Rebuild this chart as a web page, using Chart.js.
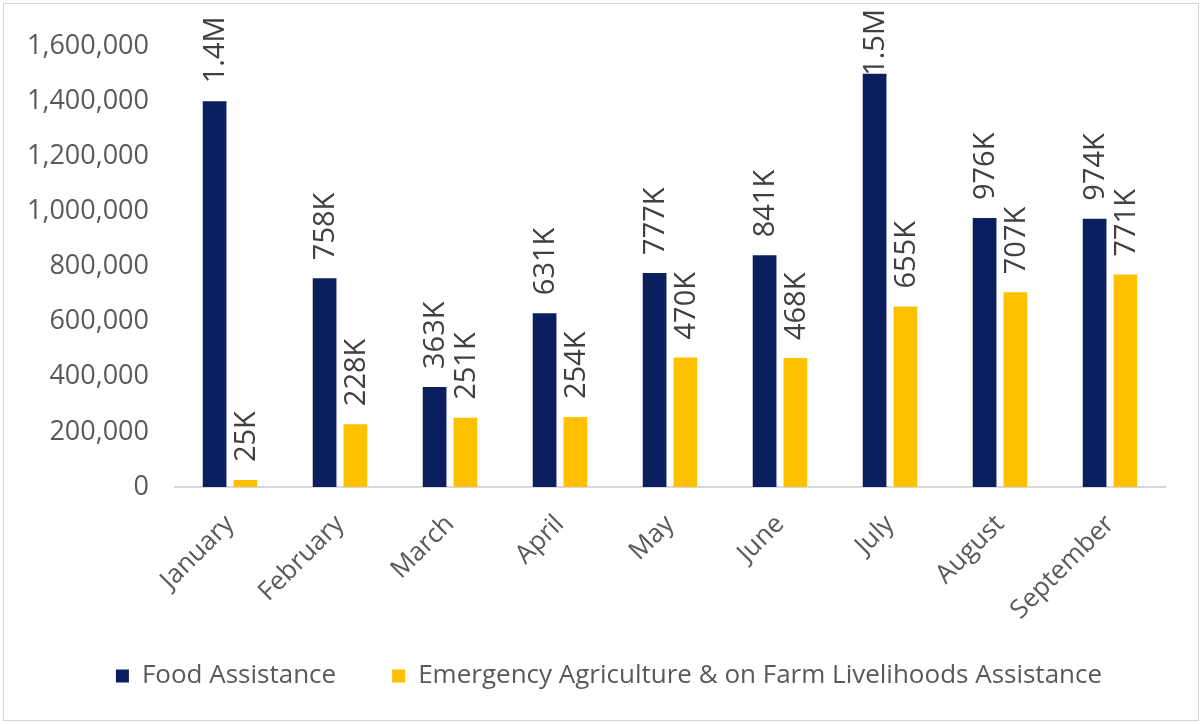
<!DOCTYPE html>
<html>
<head>
<meta charset="utf-8">
<script src="https://cdn.jsdelivr.net/npm/chart.js@4.4.0/dist/chart.umd.min.js"></script>
<style>
  html, body { margin: 0; padding: 0; background: #fff; }
  #frame {
    position: absolute; left: 3px; top: 3px;
    width: 1194px; height: 716px;
    border: 1px solid #d4d4d4; overflow: hidden; background: #fff;
  }
  #chart { display: block; }
</style>
</head>
<body>
<div id="frame"><canvas id="chart" width="1194" height="716"></canvas></div>
<script>
// Data
const months = ["January", "February", "March", "April", "May", "June", "July", "August", "September"]
const foodAssistance = [1400000, 758000, 363000, 631000, 777000, 841000, 1500000, 976000, 974000]
const agriAssistance = [25000, 228000, 251000, 254000, 470000, 468000, 655000, 707000, 771000]
const yTicks = [0, 200000, 400000, 600000, 800000, 1000000, 1200000, 1400000, 1600000]

const NAVY = "#0b1f5e"
const GOLD = "#ffc000"
const TEXT = "#595959"
const FONT = '"Open Sans", "Noto Sans", sans-serif'

// 1400000 -> 1.4M, 758000 -> 758K
function shortLabel(v) {
  if (v >= 1000000) return (v / 1000000).toFixed(1) + "M"
  return Math.round(v / 1000) + "K"
}

// Rotated value labels above each bar
const barLabels = {
  id: "barLabels",
  afterDatasetsDraw(chart) {
    const ctx = chart.ctx
    ctx.save()
    ctx.font = "29px " + FONT
    ctx.fillStyle = "#404040"
    ctx.textAlign = "left"
    ctx.textBaseline = "middle"
    chart.data.datasets.forEach((ds, i) => {
      chart.getDatasetMeta(i).data.forEach((bar, j) => {
        const text = shortLabel(ds.data[j])
        const w = ctx.measureText(text).width
        let y = bar.y - 18
        if (y - w < 5) y = 5 + w // keep the label inside the frame
        ctx.save()
        ctx.translate(bar.x + 1, y)
        ctx.rotate(-Math.PI / 2)
        ctx.fillText(text, 0, 0)
        ctx.restore()
      })
    })
    ctx.restore()
  },
}

// let tick labels run outside their scale boxes without being clipped
const unclipTicks = {
  id: "unclipTicks",
  afterLayout(chart) {
    chart.scales.x.bottom = chart.height
    chart.scales.y.left = 0
  },
}

new Chart(document.getElementById("chart"), {
  type: "bar",
  data: {
    labels: months,
    datasets: [
      {
        label: "Food Assistance",
        data: foodAssistance,
        backgroundColor: NAVY,
        borderWidth: 0,
        categoryPercentage: 0.56,
        barPercentage: 0.77,
      },
      {
        label: "Emergency Agriculture & on Farm Livelihoods Assistance",
        data: agriAssistance,
        backgroundColor: GOLD,
        borderWidth: 0,
        categoryPercentage: 0.56,
        barPercentage: 0.77,
      },
    ],
  },
  options: {
    responsive: false,
    animation: false,
    layout: { padding: { top: 33, right: 33, bottom: 21, left: 49 } },
    plugins: {
      legend: {
        position: "bottom",
        labels: {
          color: TEXT,
          font: { family: FONT, size: 26 },
          boxWidth: 13,
          boxHeight: 13,
          padding: 56,
        },
      },
      tooltip: { enabled: false },
    },
    scales: {
      x: {
        grid: { display: false, drawTicks: false },
        border: { display: true, color: "#d9d9d9", width: 2 },
        ticks: {
          color: TEXT,
          font: { family: FONT, size: 26 },
          maxRotation: 45,
          minRotation: 45,
          padding: 22,
        },
        afterFit(s) { s.height = 120 },
      },
      y: {
        min: 0,
        max: 1600000,
        grid: { display: false, drawTicks: false },
        border: { display: false },
        afterBuildTicks(s) { s.ticks = yTicks.map((v) => ({ value: v })) },
        ticks: {
          color: TEXT,
          font: { family: FONT, size: 27 },
          padding: 26,
          callback: (v) => v.toLocaleString("en-US"),
        },
        afterFit(s) { s.width = 122 },
      },
    },
  },
  plugins: [barLabels, unclipTicks],
})
</script>
</body>
</html>
